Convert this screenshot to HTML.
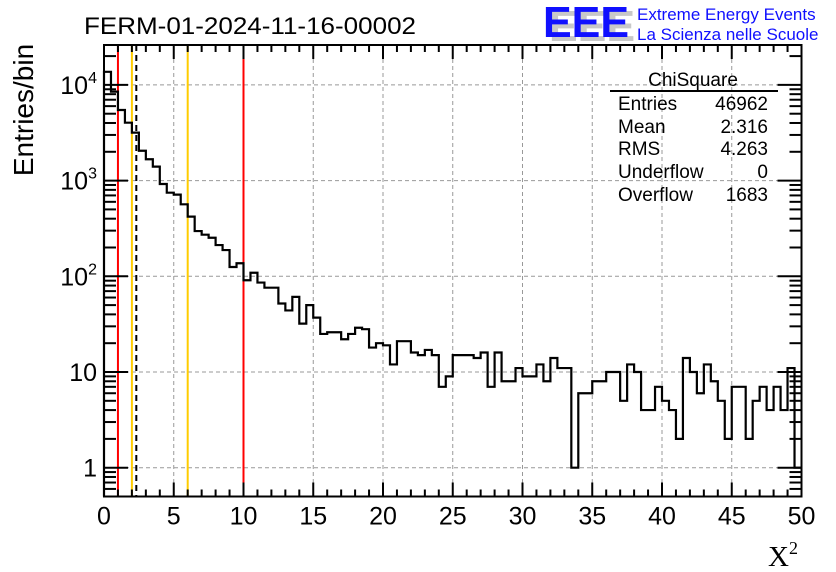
<!DOCTYPE html>
<html><head><meta charset="utf-8"><style>
html,body{margin:0;padding:0;background:#fff;}
svg{display:block;font-family:"Liberation Sans",sans-serif;}
</style></head><body>
<svg id="chart" width="836" height="572" viewBox="0 0 836 572" xmlns="http://www.w3.org/2000/svg">
<g>
  <text x="549" y="41" font-size="44" font-weight="bold" fill="#c8c8c8" textLength="86" lengthAdjust="spacingAndGlyphs">EEE</text>
  <text x="543" y="37" font-size="44" font-weight="bold" fill="#1010ff" textLength="86" lengthAdjust="spacingAndGlyphs">EEE</text>
  <text x="637" y="20" font-size="17" fill="#1010ff">Extreme Energy Events</text>
  <text x="637" y="40" font-size="17" fill="#1010ff">La Scienza nelle Scuole</text>
</g>
<text x="84" y="34" font-size="24" fill="#000" textLength="332" lengthAdjust="spacingAndGlyphs">FERM-01-2024-11-16-00002</text>
<text transform="translate(33,110) rotate(-90)" text-anchor="middle" font-size="28" fill="#000">Entries/bin</text>
<text x="768" y="566" font-family="Liberation Serif, serif" font-size="29" fill="#000">X<tspan dy="-12" font-size="18">2</tspan></text>
<g id="grid"></g>
<g id="vlines"></g>
<g id="hist"></g>
<g id="axes"></g>
<g font-size="19" fill="#000">
  <text x="693" y="86" text-anchor="middle">ChiSquare</text>
  <line x1="610" y1="91" x2="778" y2="91" stroke="#000" stroke-width="2"/>
  <text x="618" y="110">Entries</text><text x="768" y="110" text-anchor="end">46962</text>
  <text x="618" y="133">Mean</text><text x="768" y="133" text-anchor="end">2.316</text>
  <text x="618" y="155">RMS</text><text x="768" y="155" text-anchor="end">4.263</text>
  <text x="618" y="178">Underflow</text><text x="768" y="178" text-anchor="end">0</text>
  <text x="618" y="201">Overflow</text><text x="768" y="201" text-anchor="end">1683</text>
</g>
</svg>
<script>
const binCounts = [13700,8500,5470,4030,3170,2050,1670,1400,921,748,
713,565,420,297,272,253,212,188,125,137,
91,109,86,76,76,52,44,61,32,50,
37,25,26,26,22,25,29,28,18,20,
19,12,21,21,16,15,17,15,7,9,
15,15,15,14,16,7,16,8,8,11,
9,9,12,8,14,11,11,1,6,6,
8,8,10,10,5,12,10,4,4,7,
5,4,2,14,10,6,12,8,5,2,
7,7,2,5,7,4,7,4,11,1];
const binWidth = 0.5;
const xTicks = [0,5,10,15,20,25,30,35,40,45,50];
const yDecades = [0,1,2,3,4];
const refLines = [1,2,6,10];
const refColors = ["#ff0000","#ffcc00","#ffcc00","#ff0000"];
const meanValue = 2.316;

const L=104,R=801.5,T=45,B=496.5;
const X0=0,X1=50;
const sx=v=>L+(v-X0)/(X1-X0)*(R-L);
const yOne=467.7, dec=95.7;
const sy=v=>yOne-dec*Math.log10(v);
const NS="http://www.w3.org/2000/svg";
function mk(parent,tag,attrs){const e=document.createElementNS(NS,tag);for(const k in attrs)e.setAttribute(k,attrs[k]);parent.appendChild(e);return e;}
const grid=document.getElementById('grid'),hist=document.getElementById('hist'),vl=document.getElementById('vlines'),ax=document.getElementById('axes');

xTicks.forEach(t=>{ if(t>0&&t<50){const g=mk(grid,'line',{x1:sx(t),x2:sx(t),y1:T,y2:B,stroke:'#999','stroke-width':1,'stroke-dasharray':'4,3'});

}});
yDecades.forEach(d=>{const y=sy(Math.pow(10,d));const g=mk(grid,'line',{x1:L,x2:R,y1:y,y2:y,stroke:'#999','stroke-width':1,'stroke-dasharray':'4,3'});

});

let d='';let started=false;
binCounts.forEach((c,i)=>{
  const xa=sx(i*binWidth),xb=sx((i+1)*binWidth);
  const y=c>0?Math.max(T,sy(c)):B;
  if(!started){d+=`M${xa},${B} L${xa},${y} L${xb},${y}`;started=true;}
  else d+=` L${xa},${y} L${xb},${y}`;
});
const hp=mk(hist,'path',{d:d,fill:'none',stroke:'#000','stroke-width':2.2});



refLines.forEach((v,i)=>{const l=mk(vl,'line',{x1:sx(v),x2:sx(v),y1:T,y2:B,stroke:refColors[i],'stroke-width':2});

});
const ml=mk(vl,'line',{x1:sx(meanValue),x2:sx(meanValue),y1:T,y2:B,stroke:'#000','stroke-width':2,'stroke-dasharray':'6,4'});



const fr=mk(ax,'rect',{x:L,y:T,width:R-L,height:B-T,fill:'none',stroke:'#000','stroke-width':2});


for(let v=0;v<=50;v++){
  const major=v%5===0, len=major?14:7, x=sx(v);
  const t1=mk(ax,'line',{x1:x,x2:x,y1:B,y2:B-len,stroke:'#000','stroke-width':2});
  
  
  const t2=mk(ax,'line',{x1:x,x2:x,y1:T,y2:T+len,stroke:'#000','stroke-width':2});
  
  
}
xTicks.forEach(v=>{const t=mk(ax,'text',{x:sx(v),y:B+28,'text-anchor':'middle','font-size':25,fill:'#000'});t.textContent=String(v);

});
for(let dd=-1;dd<=4;dd++){
  for(let m=1;m<=9;m++){
    const v=m*Math.pow(10,dd);const y=sy(v);
    if(y<T||y>B)continue;
    const len=m===1?24:12;
    const a=mk(ax,'line',{x1:L,x2:L+len,y1:y,y2:y,stroke:'#000','stroke-width':2});
    
    
    const b=mk(ax,'line',{x1:R,x2:R-len,y1:y,y2:y,stroke:'#000','stroke-width':2});
    
    
  }
}
yDecades.forEach(dd=>{
  const y=sy(Math.pow(10,dd));
  const t=mk(ax,'text',{x:97,y:y+9,'text-anchor':'end','font-size':25,fill:'#000'});
  if(dd===0)t.textContent='1';
  else if(dd===1)t.textContent='10';
  else{t.textContent='10';const s=mk(t,'tspan',{dy:-11,'font-size':16});s.textContent=String(dd);}
  
  
});
</script>
</body></html>
